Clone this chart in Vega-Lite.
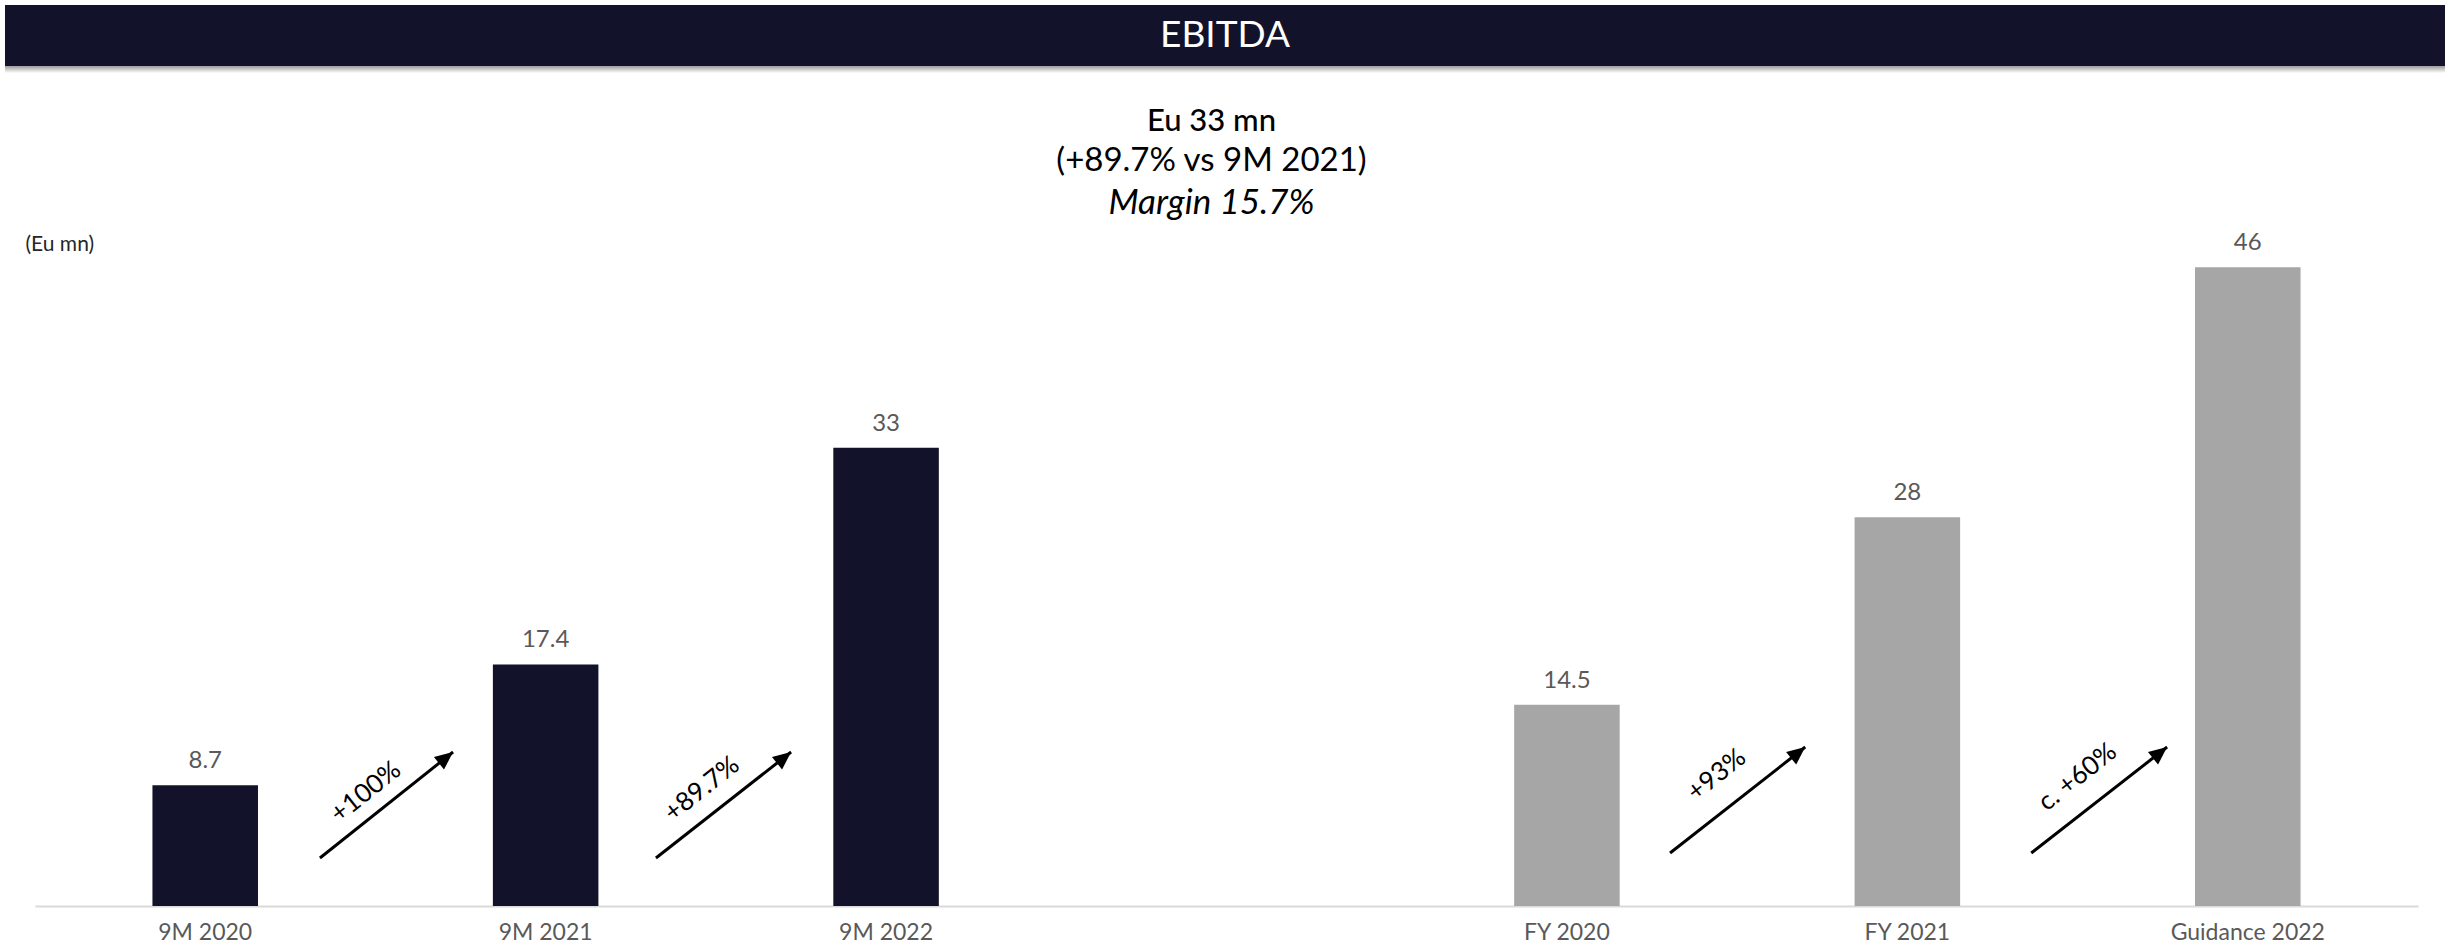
{
  "$schema": "https://vega.github.io/schema/vega-lite/v6.json",
  "background": "white",
  "padding": {"left": 5, "top": 5, "right": 5, "bottom": 0},
  "spacing": 0,
  "config": {"view": {"stroke": null}, "font": "Lato"},
  "vconcat": [
    {
      "width": 2440,
      "height": 61,
      "view": {"fill": "#12132b", "stroke": null},
      "data": {"values": [{"title": "EBITDA"}]},
      "mark": {"type": "text", "color": "white", "fontSize": 37, "font": "Lato", "fontWeight": "normal", "baseline": "middle", "align": "center"},
      "encoding": {"text": {"field": "title"}}
    },
    {
      "width": 2440,
      "height": 7,
      "data": {"values": [{}]},
      "mark": {"type": "bar", "color": {"gradient": "linear", "x1": 0, "y1": 0, "x2": 0, "y2": 1, "stops": [{"offset": 0, "color": "#9a9a9a"}, {"offset": 1, "color": "#ffffff"}]}},
      "encoding": {}
    },
    {
      "width": 2413,
      "height": 833,
      "resolve": {"scale": {"x": "independent"}},
      "layer": [
        {
          "data": {"values": [
            {"period": "9M 2020", "series": "9M", "value": 8.7, "label": "8.7"},
            {"period": "9M 2021", "series": "9M", "value": 17.4, "label": "17.4"},
            {"period": "9M 2022", "series": "9M", "value": 33, "label": "33"},
            {"period": "FY 2020", "series": "FY", "value": 14.5, "label": "14.5"},
            {"period": "FY 2021", "series": "FY", "value": 28, "label": "28"},
            {"period": "Guidance 2022", "series": "FY", "value": 46, "label": "46"}
          ]},
          "layer": [
            {
              "mark": {"type": "bar"},
              "encoding": {
                "x": {"field": "period", "type": "nominal", "sort": null,
                  "scale": {"domain": ["9M 2020", "9M 2021", "9M 2022", " ", "FY 2020", "FY 2021", "Guidance 2022"], "range": [30, 2413], "paddingInner": 0.69, "paddingOuter": 0.345},
                  "axis": {"title": null, "labelFontSize": 23, "labelColor": "#595959", "labelFont": "Lato", "labelPadding": 15, "ticks": false, "tickSize": 0, "domainColor": "#d9d9d9", "domainWidth": 2, "labelAngle": 0, "grid": false}},
                "y": {"field": "value", "type": "quantitative", "scale": {"domain": [0, 60], "nice": false},
                  "axis": {"title": "(Eu mn)", "labels": false, "ticks": false, "domain": false, "grid": false, "minExtent": 0, "maxExtent": 0, "titleAngle": 0, "titleAlign": "left", "titleBaseline": "middle", "titleX": 20, "titleY": 171, "titleFontSize": 21, "titleFontWeight": "normal", "titleColor": "#262626", "titleFont": "Lato"}},
                "color": {"field": "series", "type": "nominal", "scale": {"domain": ["9M", "FY"], "range": ["#12132b", "#a6a6a6"]}, "legend": null}
              }
            },
            {
              "mark": {"type": "text", "fontSize": 24, "color": "#595959", "baseline": "alphabetic", "dy": -17, "font": "Lato"},
              "encoding": {
                "x": {"field": "period", "type": "nominal", "sort": null,
                  "scale": {"domain": ["9M 2020", "9M 2021", "9M 2022", " ", "FY 2020", "FY 2021", "Guidance 2022"], "range": [30, 2413], "paddingInner": 0.69, "paddingOuter": 0.345}},
                "y": {"field": "value", "type": "quantitative", "scale": {"domain": [0, 60], "nice": false}},
                "text": {"field": "label"}
              }
            }
          ]
        },
        {
          "data": {"values": [
            {"label": "+100%", "x0": 0.837, "x1": 1.228, "y0": 3.46, "y1": 11.09, "tx": 0.972, "ty": 8.21},
            {"label": "+89.7%", "x0": 1.824, "x1": 2.221, "y0": 3.46, "y1": 11.09, "tx": 1.959, "ty": 8.43},
            {"label": "+93%", "x0": 4.803, "x1": 5.2, "y0": 3.82, "y1": 11.45, "tx": 4.94, "ty": 9.44},
            {"label": "c. +60%", "x0": 5.864, "x1": 6.263, "y0": 3.82, "y1": 11.45, "tx": 6.0, "ty": 9.29}
          ]},
          "layer": [
            {
              "mark": {"type": "rule", "color": "black", "strokeWidth": 3},
              "encoding": {
                "x": {"field": "x0", "type": "quantitative", "scale": {"domain": [0, 7], "range": [30, 2413], "nice": false, "zero": false}, "axis": null},
                "x2": {"field": "x1"},
                "y": {"field": "y0", "type": "quantitative", "scale": {"domain": [0, 60], "nice": false}},
                "y2": {"field": "y1"}
              }
            },
            {
              "mark": {"type": "point", "shape": "M0,0L-0.45,1L0.45,1Z", "filled": true, "color": "black", "opacity": 1, "size": 1296, "angle": 51.5},
              "encoding": {
                "x": {"field": "x1", "type": "quantitative", "scale": {"domain": [0, 7], "range": [30, 2413], "nice": false, "zero": false}, "axis": null},
                "y": {"field": "y1", "type": "quantitative", "scale": {"domain": [0, 60], "nice": false}}
              }
            },
            {
              "mark": {"type": "text", "fontSize": 26, "color": "black", "angle": 321.5, "align": "center", "baseline": "middle", "font": "Lato"},
              "encoding": {
                "x": {"field": "tx", "type": "quantitative", "scale": {"domain": [0, 7], "range": [30, 2413], "nice": false, "zero": false}, "axis": null},
                "y": {"field": "ty", "type": "quantitative", "scale": {"domain": [0, 60], "nice": false}},
                "text": {"field": "label"}
              }
            }
          ]
        },
        {
          "data": {"values": [{"line1": "Eu 33 mn", "line2": "(+89.7% vs 9M 2021)", "line3": "Margin 15.7%"}]},
          "layer": [
            {
              "mark": {"type": "text", "fontSize": 31, "fontWeight": 500, "color": "black", "baseline": "alphabetic", "align": "center", "font": "Lato"},
              "encoding": {"y": {"datum": 55.82, "type": "quantitative", "scale": {"domain": [0, 60], "nice": false}}, "text": {"field": "line1"}}
            },
            {
              "mark": {"type": "text", "fontSize": 33, "color": "black", "baseline": "alphabetic", "align": "center", "font": "Lato"},
              "encoding": {"y": {"datum": 52.94, "type": "quantitative", "scale": {"domain": [0, 60], "nice": false}}, "text": {"field": "line2"}}
            },
            {
              "mark": {"type": "text", "fontSize": 35, "fontStyle": "italic", "color": "black", "baseline": "alphabetic", "align": "center", "font": "Lato"},
              "encoding": {"y": {"datum": 49.85, "type": "quantitative", "scale": {"domain": [0, 60], "nice": false}}, "text": {"field": "line3"}}
            }
          ]
        }
      ]
    }
  ]
}
